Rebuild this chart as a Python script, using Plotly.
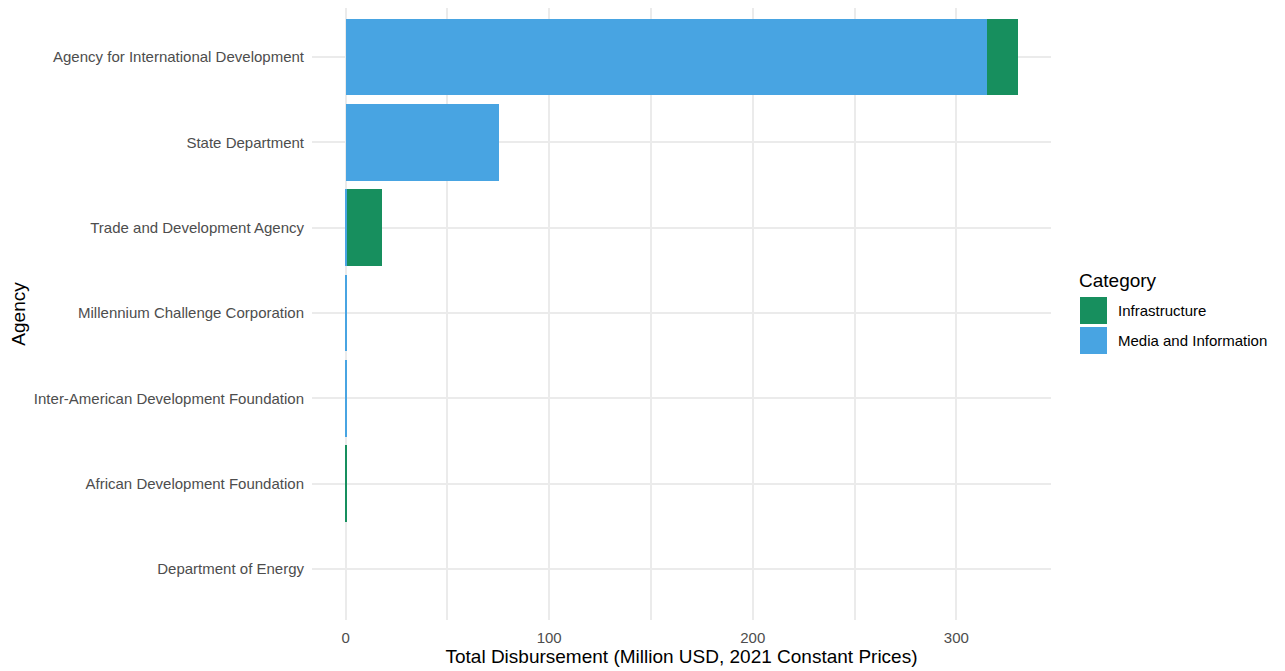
import plotly.graph_objects as go

agencies = [
    "Department of Energy",
    "African Development Foundation",
    "Inter-American Development Foundation",
    "Millennium Challenge Corporation",
    "Trade and Development Agency",
    "State Department",
    "Agency for International Development",
]
media_info = [0.0, 0.0, 0.8, 0.8, 0.6, 75.4, 315.2]
infrastructure = [0.0, 0.7, 0.0, 0.0, 17.4, 0.0, 15.0]

categories = ["Infrastructure", "Media and Information"]
colors = {"Infrastructure": "#178F5E", "Media and Information": "#48A4E2"}

x_ticks = [0, 100, 200, 300]

# page body has an 8px offset; panel in figure px
OFF = 8
L, R, T, B = 304, 1043, 0, 612
W, H = 1285, 671


def px(sx):
    return (sx - OFF - L) / (R - L)


def py(sy):
    return 1 - (sy - OFF - T) / (B - T)


fig = go.Figure()
fig.add_trace(go.Bar(y=agencies, x=media_info, orientation="h", name="Media and Information",
                     marker=dict(color=colors["Media and Information"], line=dict(width=0)),
                     width=0.9, showlegend=False))
fig.add_trace(go.Bar(y=agencies, x=infrastructure, orientation="h", name="Infrastructure",
                     marker=dict(color=colors["Infrastructure"], line=dict(width=0)),
                     width=0.9, showlegend=False))

font_family = "Liberation Sans, Arial, sans-serif"

fig.update_layout(
    barmode="stack",
    width=W, height=H,
    margin=dict(l=L, r=W - R, t=T, b=H - B),
    paper_bgcolor="white", plot_bgcolor="white",
    font=dict(family=font_family, color="#4D4D4D", size=15),
)
fig.update_xaxes(
    range=[-16.5, 346.5], tickvals=x_ticks, ticktext=[str(v) for v in x_ticks],
    showgrid=True, gridcolor="#EBEBEB", gridwidth=1.8, zeroline=False, showline=False,
    ticks="outside", ticklen=4, tickcolor="rgba(0,0,0,0)",
    tickfont=dict(size=15, color="#4D4D4D"),
    minor=dict(tickvals=[50, 150, 250], showgrid=True, gridcolor="#EBEBEB", gridwidth=1.8),
    title=dict(text="Total Disbursement (Million USD, 2021 Constant Prices)",
               font=dict(size=19, color="black"), standoff=4),
    automargin=False,
)
fig.update_yaxes(
    categoryorder="array", categoryarray=agencies, range=[-0.598, 6.574],
    showgrid=True, gridcolor="#EBEBEB", gridwidth=1.8, zeroline=False, showline=False,
    ticks="outside", ticklen=4, tickcolor="rgba(0,0,0,0)",
    tickfont=dict(size=15, color="#4D4D4D"),
    title=dict(text="Agency", font=dict(size=19, color="black"), standoff=22),
    automargin=False,
)

# custom ggplot-style legend
fig.add_annotation(text="Category", xref="paper", yref="paper",
                   x=px(1077), y=py(280),
                   xanchor="left", yanchor="middle", showarrow=False,
                   font=dict(size=19, color="black", family=font_family))
for i, cat in enumerate(categories):
    top = 297 + i * 30
    fig.add_shape(type="rect", xref="paper", yref="paper",
                  x0=px(1080), x1=px(1107), y0=py(top + 27), y1=py(top),
                  fillcolor=colors[cat], line=dict(width=0))
    fig.add_annotation(text=cat, xref="paper", yref="paper",
                       x=px(1116), y=py(top + 13.5),
                       xanchor="left", yanchor="middle", showarrow=False,
                       font=dict(size=15, color="black", family=font_family))

fig.write_html("out.html")
